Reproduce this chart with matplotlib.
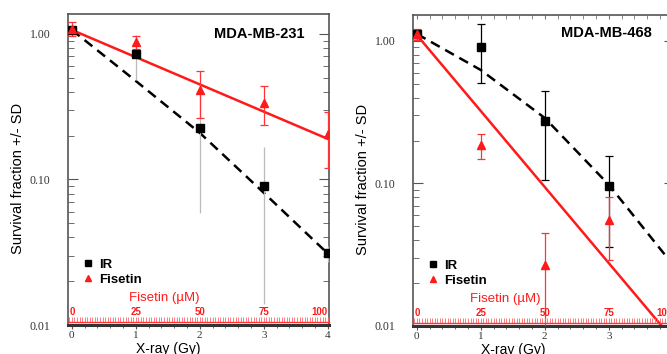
import matplotlib.pyplot as plt
import numpy as np
from matplotlib.ticker import LogLocator, MultipleLocator, NullFormatter

plt.rcParams['font.family'] = ['Liberation Sans', 'DejaVu Sans']

dose_gy = [0, 1, 2, 3, 4]
fisetin_um = [0, 25, 50, 75, 100]
y_ticks = [0.01, 0.1, 1.0]
y_tick_labels = ['0.01', '0.10', '1.00']

# MDA-MB-231
ir_231 = [1.07, 0.73, 0.226, 0.090, 0.031]
ir_231_sd = [0.03, 0.25, 0.167, 0.076, 0.004]
fis_231 = [1.08, 0.88, 0.41, 0.336, 0.205]
fis_231_sd = [0.12, 0.095, 0.145, 0.10, 0.085]
ir_231_fit = [1.065, 0.475, 0.209, 0.081, 0.031]
fis_231_fit_x = [0, 4]
fis_231_fit = [1.065, 0.19]

# MDA-MB-468 (the 4 Gy points fall off the picture)
dose_468 = [0, 1, 2, 3]
ir_468 = [1.12, 0.91, 0.275, 0.096]
ir_468_sd = [0.03, 0.40, 0.17, 0.06]
fis_468 = [1.12, 0.185, 0.027, 0.055]
fis_468_sd = [0.10, 0.037, 0.018, 0.026]
ir_468_fit = [1.12, 0.625, 0.288, 0.098, 0.027]
fis_468_fit_x = [0, 4]
fis_468_fit = [1.10, 0.0081]

fig = plt.figure(figsize=(6.67, 3.54), dpi=100)


def panel(pos, title, ylim_top, dx, ir, ir_sd, ir_err_col, ir_cap, fis, fis_sd,
          ir_fit, fit_x, fis_fit, top_ticks, title_xy, fis_lab_x):
    ax = fig.add_axes(pos)
    ax.set_yscale('log')
    ax.set_xlim(-0.06, 4.02)
    ax.set_ylim(0.01, ylim_top)

    ax.plot(dose_gy, ir_fit, color='black', ls=(0, (4, 2.5)), lw=1.8, zorder=2)
    ax.plot(fit_x, fis_fit, color='#ff1a1a', lw=1.8, zorder=2)
    ax.errorbar(dx, ir, yerr=ir_sd, fmt='none', ecolor=ir_err_col, elinewidth=0.9,
                capsize=ir_cap, capthick=0.9, zorder=3)
    ax.errorbar(dx, fis, yerr=fis_sd, fmt='none', ecolor='#ff3333', elinewidth=0.9,
                capsize=3, capthick=0.9, zorder=3)
    ax.plot(dx, ir, 's', color='black', ms=6, ls='none', label='IR', zorder=4)
    ax.plot(dx, fis, '^', color='#ff1a1a', ms=5.5, ls='none', label='Fisetin', zorder=5)

    ax.set_yticks(y_ticks, labels=y_tick_labels, fontfamily='Liberation Serif', fontsize=8.5)
    ax.yaxis.set_minor_locator(LogLocator(subs=np.arange(2, 10)))
    ax.yaxis.set_minor_formatter(NullFormatter())
    ax.tick_params(axis='y', which='both', direction='in', right=True, colors='#555',
                   labelcolor='#333', pad=12.5)
    ax.tick_params(axis='y', which='major', length=7)
    ax.tick_params(axis='y', which='minor', length=4)

    ax.set_xticks(dose_gy, labels=[str(d) for d in dose_gy],
                  fontfamily='Liberation Serif', fontsize=8)
    ax.xaxis.set_minor_locator(MultipleLocator(0.2))
    ax.tick_params(axis='x', which='both', direction='out', colors='#555',
                   labelcolor='#333', pad=1.5)
    ax.tick_params(axis='x', which='major', length=3)
    ax.tick_params(axis='x', which='minor', length=2)

    for s in ['left', 'right', 'top']:
        ax.spines[s].set_color('#555')
        ax.spines[s].set_linewidth(1.2)
    ax.spines['bottom'].set_color('#333')
    ax.spines['bottom'].set_linewidth(2.2)

    if top_ticks:
        sec = ax.secondary_xaxis('top')
        sec.set_xticks(dose_gy)
        sec.xaxis.set_minor_locator(MultipleLocator(0.2))
        sec.tick_params(axis='x', which='both', direction='in', labeltop=False,
                        colors='#777', length=3)
        sec.spines['top'].set_visible(False)

    ax.set_ylabel('Survival fraction +/- SD', fontsize=10.5)
    ax.yaxis.set_label_coords(-0.165, 0.47)
    ax.set_xlabel('X-ray (Gy)', fontsize=10)
    ax.xaxis.set_label_coords(0.383, -0.056)

    ax.text(title_xy[0], title_xy[1], title, transform=ax.transAxes, ha='right',
            va='center', fontsize=10.5, fontweight='bold')

    ax.legend(loc='lower left', bbox_to_anchor=(0.04, 0.11), frameon=False,
              handlelength=0.6, handletextpad=0.6, labelspacing=0.2, markerscale=0.8,
              prop={'weight': 'bold', 'size': 9.5}, borderaxespad=0)

    # Fisetin concentration scale along the bottom
    fx = ax.twiny()
    fx.set_xlim(np.array(ax.get_xlim()) * 25)
    fx.xaxis.set_ticks_position('bottom')
    fx.spines['bottom'].set_position(('outward', -2.2))
    fx.spines['bottom'].set_color('#ff3333')
    fx.spines['bottom'].set_linewidth(1)
    for s in ['top', 'left', 'right']:
        fx.spines[s].set_visible(False)
    fx.set_xticks(fisetin_um, labels=[str(f) for f in fisetin_um],
                  fontsize=7, fontweight='bold')
    fx.xaxis.set_minor_locator(MultipleLocator(1))
    fx.tick_params(axis='x', which='both', direction='in', colors='#ff6666',
                   labelcolor='#ff1a1a', pad=-10.5, length=3.5, width=0.6)
    fx.get_xticklabels()[-1].set_ha('right')
    ax.text(fis_lab_x, 0.087, 'Fisetin (\u00b5M)', transform=ax.transAxes, ha='center',
            va='center', color='#ff1a1a', fontsize=9.5)
    return ax


panel([68 / 667, 29 / 354, 261 / 667, 311 / 354], 'MDA-MB-231', 1.37, dose_gy,
      ir_231, ir_231_sd, '#bbbbbb', 0, fis_231, fis_231_sd,
      ir_231_fit, fis_231_fit_x, fis_231_fit, False, (0.908, 0.936), 0.37)
panel([413 / 667, 28 / 354, 261 / 667, 311 / 354], 'MDA-MB-468', 1.52, dose_468,
      ir_468, ir_468_sd, 'black', 3, fis_468, fis_468_sd,
      ir_468_fit, fis_468_fit_x, fis_468_fit, True, (0.916, 0.942), 0.355)

fig.savefig('out.png', dpi=100)
